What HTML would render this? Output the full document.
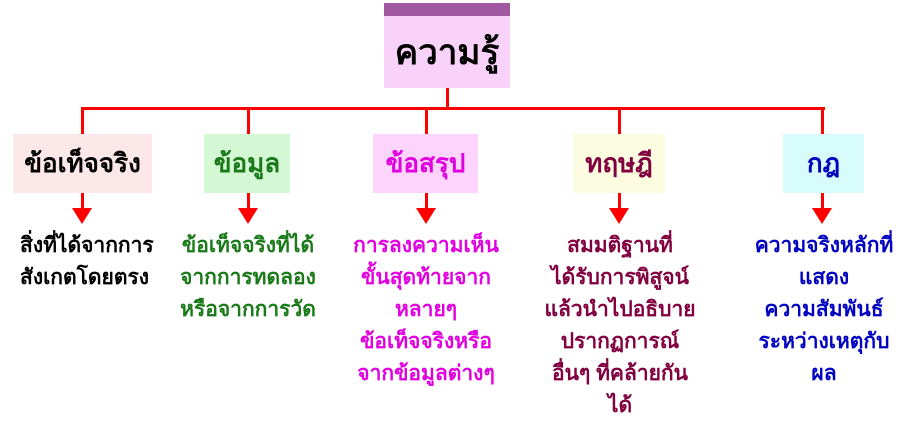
<!DOCTYPE html>
<html><head><meta charset="utf-8"><style>
body{margin:0;width:917px;height:445px;background:#fff;position:relative;overflow:hidden;font-family:"Liberation Sans","DejaVu Sans",sans-serif;font-weight:bold}
.a{position:absolute}
.l{position:absolute;background:#f00}
.box{position:absolute;display:flex;align-items:center;justify-content:center;font-size:26px}
.t{position:absolute;text-align:center;font-size:21px;line-height:32px;white-space:nowrap}
.ar{position:absolute;width:0;height:0;border-left:10px solid transparent;border-right:10px solid transparent;border-top:16px solid #f00}
</style></head><body>
<div class="a" style="left:384px;top:3px;width:126px;height:85px;background:#f8d2f8"></div>
<div class="a" style="left:384px;top:3px;width:126px;height:13px;background:#a058a0"></div>
<div class="box" style="left:384px;top:16px;width:126px;height:72px;font-size:35px;color:#000">ความรู้</div>
<div class="l" style="left:446px;top:88px;width:3px;height:21px"></div>
<div class="l" style="left:81px;top:107px;width:744px;height:3px"></div>
<div class="l" style="left:81px;top:107px;width:3px;height:27px"></div>
<div class="l" style="left:247px;top:107px;width:3px;height:27px"></div>
<div class="l" style="left:425px;top:107px;width:3px;height:27px"></div>
<div class="l" style="left:618px;top:107px;width:3px;height:27px"></div>
<div class="l" style="left:821px;top:107px;width:3px;height:27px"></div>

<div class="box" style="left:13px;top:134px;width:139px;height:59px;background:#fce8e8;color:#000">ข้อเท็จจริง</div>
<div class="box" style="left:204px;top:134px;width:86px;height:59px;background:#d4f8d4;color:#1a7a1a">ข้อมูล</div>
<div class="box" style="left:373px;top:134px;width:105px;height:59px;background:#fcd4fc;color:#e000e0">ข้อสรุป</div>
<div class="box" style="left:573px;top:134px;width:92px;height:59px;background:#fcfce0;color:#800040">ทฤษฎี</div>
<div class="box" style="left:783px;top:134px;width:81px;height:59px;background:#d8fcfc;color:#0000c0">กฎ</div>

<div class="l" style="left:81px;top:193px;width:3px;height:16px"></div><div class="ar" style="left:72px;top:208px"></div>
<div class="l" style="left:247px;top:193px;width:3px;height:16px"></div><div class="ar" style="left:238px;top:208px"></div>
<div class="l" style="left:425px;top:193px;width:3px;height:16px"></div><div class="ar" style="left:416px;top:208px"></div>
<div class="l" style="left:618px;top:193px;width:3px;height:16px"></div><div class="ar" style="left:609px;top:208px"></div>
<div class="l" style="left:821px;top:193px;width:3px;height:16px"></div><div class="ar" style="left:812px;top:208px"></div>

<div class="t" style="left:20px;top:230px;width:150px;text-align:left;color:#000">สิ่งที่ได้จากการ<br>สังเกตโดยตรง</div>
<div class="t" style="left:168px;top:230px;width:160px;color:#1a7a1a">ข้อเท็จจริงที่ได้<br>จากการทดลอง<br>หรือจากการวัด</div>
<div class="t" style="left:340px;top:230px;width:172px;color:#e000e0">การลงความเห็น<br>ขั้นสุดท้ายจาก<br>หลายๆ<br>ข้อเท็จจริงหรือ<br>จากข้อมูลต่างๆ</div>
<div class="t" style="left:540px;top:230px;width:160px;color:#800040">สมมติฐานที่<br>ได้รับการพิสูจน์<br>แล้วนำไปอธิบาย<br>ปรากฏการณ์<br>อื่นๆ ที่คล้ายกัน<br>ได้</div>
<div class="t" style="left:742px;top:230px;width:164px;color:#0000c0">ความจริงหลักที่<br>แสดง<br>ความสัมพันธ์<br>ระหว่างเหตุกับ<br>ผล</div>
</body></html>
